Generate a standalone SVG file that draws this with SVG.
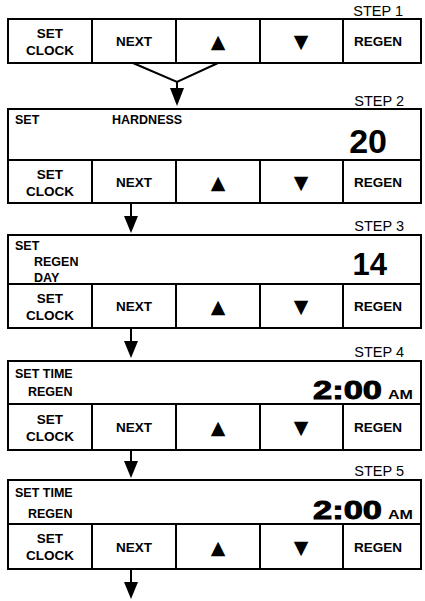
<svg xmlns="http://www.w3.org/2000/svg" width="425" height="601" viewBox="0 0 425 601">
<style>
.box{fill:#fff;stroke:#000;stroke-width:2}
.ln{stroke:#000;stroke-width:2;fill:none}
.btn{font-family:"Liberation Sans",Arial,sans-serif;font-weight:bold;font-size:13.5px;text-anchor:middle;fill:#000}
.tri{font-family:"DejaVu Sans",sans-serif;font-size:19px;text-anchor:middle;fill:#000}
.lbl{font-family:"Liberation Sans",Arial,sans-serif;font-weight:bold;font-size:12.5px;fill:#000}
.step{font-family:"Liberation Sans",Arial,sans-serif;font-size:14.5px;text-anchor:end;fill:#000}
.big{font-family:"Liberation Sans",Arial,sans-serif;font-weight:bold;fill:#000}
.time{stroke:#000;stroke-width:0.9}
.con{stroke:#000;stroke-width:2;fill:none}
.head{fill:#000}
</style>
<rect width="425" height="601" fill="#fff"/>

<g id="step1">
  <text class="step" x="403" y="16">STEP 1</text>
  <rect class="box" x="8" y="19" width="413" height="44"/>
  <path class="ln" d="M92 19V63M176 19V63M260 19V63M343 19V63"/>
  <text class="btn" x="50" y="38">SET</text>
  <text class="btn" x="50" y="55">CLOCK</text>
  <text class="btn" x="134" y="46">NEXT</text>
  <text class="tri" x="218" y="48">▲</text>
  <text class="tri" x="301" y="48">▼</text>
  <text class="btn" x="378" y="46">REGEN</text>
</g>

<g id="step2">
  <text class="step" x="404" y="106">STEP 2</text>
  <rect class="box" x="8" y="109" width="413" height="94"/>
  <path class="ln" d="M8 160H421M92 160V203M176 160V203M260 160V203M343 160V203"/>
  <text class="lbl" x="15" y="124">SET</text>
  <text class="lbl" x="112" y="124">HARDNESS</text>
  <text class="big" x="387" y="153" font-size="34" text-anchor="end">20</text>
  <text class="btn" x="50" y="179">SET</text>
  <text class="btn" x="50" y="196">CLOCK</text>
  <text class="btn" x="134" y="187">NEXT</text>
  <text class="tri" x="218" y="189">▲</text>
  <text class="tri" x="301" y="189">▼</text>
  <text class="btn" x="378" y="187">REGEN</text>
</g>

<g id="step3">
  <text class="step" x="404" y="231">STEP 3</text>
  <rect class="box" x="8" y="235" width="413" height="93"/>
  <path class="ln" d="M8 284H421M92 284V328M176 284V328M260 284V328M343 284V328"/>
  <text class="lbl" x="15" y="250">SET</text>
  <text class="lbl" x="34" y="266">REGEN</text>
  <text class="lbl" x="34" y="282">DAY</text>
  <text class="big" x="387" y="275" font-size="31" text-anchor="end">14</text>
  <text class="btn" x="50" y="303">SET</text>
  <text class="btn" x="50" y="320">CLOCK</text>
  <text class="btn" x="134" y="311">NEXT</text>
  <text class="tri" x="218" y="313">▲</text>
  <text class="tri" x="301" y="313">▼</text>
  <text class="btn" x="378" y="311">REGEN</text>
</g>

<g id="step4">
  <text class="step" x="404" y="357">STEP 4</text>
  <rect class="box" x="8" y="361" width="413" height="89"/>
  <path class="ln" d="M8 404H421M92 404V450M176 404V450M260 404V450M343 404V450"/>
  <text class="lbl" x="15" y="378">SET TIME</text>
  <text class="lbl" x="28" y="396">REGEN</text>
  <text class="big time" x="313" y="399" font-size="25" textLength="69" lengthAdjust="spacingAndGlyphs">2:00</text>
  <text class="big" x="388" y="399" font-size="13" textLength="25" lengthAdjust="spacingAndGlyphs">AM</text>
  <text class="btn" x="50" y="424">SET</text>
  <text class="btn" x="50" y="441">CLOCK</text>
  <text class="btn" x="134" y="432">NEXT</text>
  <text class="tri" x="218" y="434">▲</text>
  <text class="tri" x="301" y="434">▼</text>
  <text class="btn" x="378" y="432">REGEN</text>
</g>

<g id="step5">
  <text class="step" x="404" y="476">STEP 5</text>
  <rect class="box" x="8" y="480" width="413" height="89"/>
  <path class="ln" d="M8 524H421M92 524V569M176 524V569M260 524V569M343 524V569"/>
  <text class="lbl" x="15" y="497">SET TIME</text>
  <text class="lbl" x="28" y="518">REGEN</text>
  <text class="big time" x="313" y="519" font-size="25" textLength="69" lengthAdjust="spacingAndGlyphs">2:00</text>
  <text class="big" x="388" y="519" font-size="13" textLength="25" lengthAdjust="spacingAndGlyphs">AM</text>
  <text class="btn" x="50" y="543">SET</text>
  <text class="btn" x="50" y="560">CLOCK</text>
  <text class="btn" x="134" y="552">NEXT</text>
  <text class="tri" x="218" y="554">▲</text>
  <text class="tri" x="301" y="554">▼</text>
  <text class="btn" x="378" y="552">REGEN</text>
</g>

<g id="connectors">
  <path class="con" d="M133 63L177 82L218 63M177 82V90"/>
  <polygon class="head" points="170,88 184,88 177,106"/>
  <path class="con" d="M131 203V218"/>
  <polygon class="head" points="124,216 138,216 131,233"/>
  <path class="con" d="M131 328V343"/>
  <polygon class="head" points="124,341 138,341 131,358"/>
  <path class="con" d="M131 450V463"/>
  <polygon class="head" points="124,461 138,461 131,478"/>
  <path class="con" d="M131 569V584"/>
  <polygon class="head" points="124,582 138,582 131,599"/>
</g>
</svg>
